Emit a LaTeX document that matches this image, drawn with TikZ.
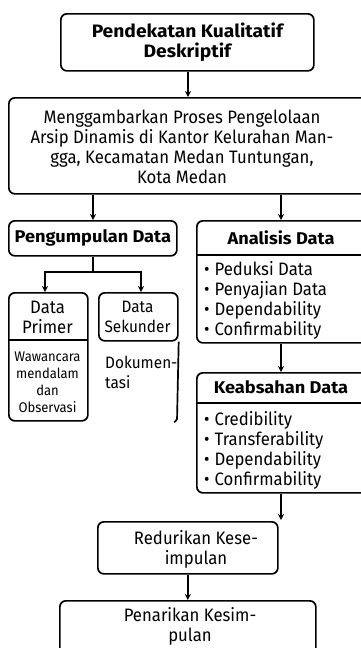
\documentclass[tikz,border=0pt]{standalone}
\usepackage{fontspec}
\setmainfont{Fira Sans}[FakeStretch=0.93]
\newfontfamily\headfont{Fira Sans}[FakeStretch=1.07]
\usetikzlibrary{arrows.meta}
\begin{document}
\begin{tikzpicture}[x=1pt,y=-1pt]
\tikzset{
  box/.style={draw, line width=1.7pt, rounded corners=6pt, inner sep=0pt, anchor=north west},
  txt/.style={font=\fontsize{18}{20}\selectfont, align=center, inner sep=0pt},
  narrow/.style={font=\fontsize{16.5}{20}\selectfont, align=center, inner sep=0pt},
  bold/.style={font=\headfont\bfseries\fontsize{17}{20}\selectfont, align=center, inner sep=0pt},
  title/.style={font=\headfont\bfseries\fontsize{18}{20}\selectfont, align=center, inner sep=0pt},
  small/.style={font=\fontsize{14}{17}\selectfont, align=center, inner sep=0pt},
  list/.style={font=\fontsize{18}{20}\selectfont, align=left, inner sep=0pt, anchor=west},
  link/.style={line width=1.7pt},
  arr/.style={line width=1.7pt, -{Stealth[length=6pt,width=6pt]}}
}
\newcommand{\itm}{\textbullet\hspace{5pt}}
\useasboundingbox (0,0) rectangle (360,648);

% approach
\node[box, minimum width=253pt, minimum height=57pt] (top) at (60,13) {};
\node[title] (toptxt) at (top.center) {Pendekatan Kualitatif\\Deskriptif};

% research focus
\node[box, minimum width=360pt, minimum height=96pt] (desc) at (8,97) {};
\node[txt] (desctxt) at (182,147) {Menggambarkan Proses Pengelolaan\\Arsip Dinamis di Kantor Kelurahan Man-\\gga, Kecamatan Medan Tuntungan,\\Kota Medan};

% data collection
\node[box, minimum width=168pt, minimum height=35pt] (peng) at (8,220) {};
\node[bold] (pengtxt) at (peng.center) {Pengumpulan Data};

\node[box, minimum width=79pt, minimum height=128pt] (prim) at (8,292) {};
\draw[link] (8,340) -- (87,340);
\node[txt] (primh) at (47.5,317) {Data\\Primer};
\node[small] (primb) at (47.5,382) {Wawancara\\mendalam\\dan\\Observasi};

\node[box, minimum width=79pt, minimum height=48pt] (sek) at (98,292) {};
\node[narrow] (sekh) at (137.5,317) {Data\\Sekunder};
\draw[link, rounded corners=2pt] (sek.south east) -- (177,421) -- (174,422);
\node[narrow, align=left, anchor=north west] (sekb) at (105,356) {Dokumen-\\tasi};

% data analysis
\node[box, minimum width=172pt, minimum height=122pt] (anal) at (196,220) {};
\draw[link] (196,255) -- (368,255);
\node[bold] (analh) at (281,238) {Analisis Data};
\node[list] (anall) at (204,300) {\itm Peduksi Data\\\itm Penyajian Data\\\itm Dependability\\\itm Confirmability};

% data validity
\node[box, minimum width=172pt, minimum height=120pt] (keab) at (196,372) {};
\draw[link] (196,403) -- (368,403);
\node[bold] (keabh) at (281,387.5) {Keabsahan Data};
\node[list] (keabl) at (204,450) {\itm Credibility\\\itm Transferability\\\itm Dependability\\\itm Confirmability};

% conclusions
\node[box, minimum width=180pt, minimum height=52pt] (redu) at (97,521) {};
\node[txt] (redutxt) at (196,549) {Redurikan Kese-\\impulan};
\node[box, minimum width=256pt, minimum height=60pt] (pena) at (59,600) {};
\node[txt] (penatxt) at (190,626) {Penarikan Kesim-\\pulan};

% connectors
\draw[arr] (top.south -| 188,0) -- (desc.north -| 188,0);
\draw[arr] (desc.south -| 93,0) -- (peng.north -| 93,0);
\draw[arr] (desc.south -| 281,0) -- (anal.north -| 281,0);
\draw[link] (peng.south -| 93,0) -- (93,272) coordinate (split);
\draw[arr] (split) -| (45,292);
\draw[arr] (split) -| (141,292);
\draw[arr] (anal.south -| 281,0) -- (keab.north -| 281,0);
\draw[arr] (keab.south -| 281,0) -- (281,520);
\draw[arr] (redu.south) -- (redu.south |- pena.north);
\end{tikzpicture}
\end{document}
